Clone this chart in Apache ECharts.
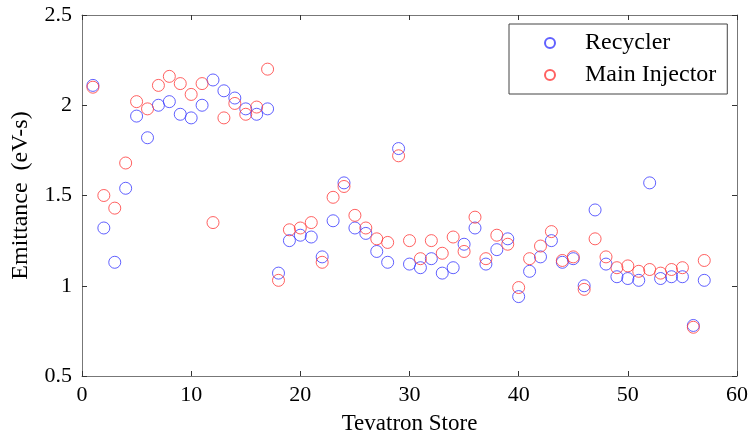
<!DOCTYPE html>
<html>
<head>
<meta charset="utf-8">
<script src="https://cdn.jsdelivr.net/npm/echarts@6/dist/echarts.min.js"></script>
<style>
html,body{margin:0;padding:0;background:#fff;}
#chart{width:750px;height:437px;}
</style>
</head>
<body>
<div id="chart"></div>
<script>
var stores = [1,2,3,4,5,6,7,8,9,10,11,12,13,14,15,16,17,18,19,20,21,22,23,24,25,26,27,28,29,30,31,32,33,34,35,36,37,38,39,40,41,42,43,44,45,46,47,48,49,50,51,52,53,54,55,56,57];
var recycler = [2.11,1.32,1.13,1.54,1.94,1.82,2.00,2.02,1.95,1.93,
                2.00,2.14,2.08,2.04,1.98,1.95,1.98,1.07,1.25,1.28,
                1.27,1.16,1.36,1.57,1.32,1.29,1.19,1.13,1.76,1.12,
                1.10,1.15,1.07,1.10,1.23,1.32,1.12,1.20,1.26,0.94,
                1.08,1.16,1.25,1.13,1.15,1.00,1.42,1.12,1.05,1.04,
                1.03,1.57,1.04,1.05,1.05,0.78,1.03];
var mainInjector = [2.10,1.50,1.43,1.68,2.02,1.98,2.11,2.16,2.12,2.06,
                    2.12,1.35,1.93,2.01,1.95,1.99,2.20,1.03,1.31,1.32,
                    1.35,1.13,1.49,1.55,1.39,1.32,1.26,1.24,1.72,1.25,
                    1.15,1.25,1.18,1.27,1.19,1.38,1.15,1.28,1.23,0.99,
                    1.15,1.22,1.30,1.14,1.16,0.98,1.26,1.16,1.10,1.11,
                    1.08,1.09,1.07,1.09,1.10,0.77,1.14];
var seriesNames = ['Recycler', 'Main Injector'];
var xTitle = 'Tevatron Store';
var yTitle = 'Emittance  (eV-s)';

function pairs(xs, ys) { return xs.map(function (x, i) { return [x, ys[i]]; }); }

var FONT = "'Liberation Serif', 'DejaVu Serif', serif";
var chart = echarts.init(document.getElementById('chart'), null, {renderer: 'canvas'});
var axisLineStyle = {color: '#777', width: 1};
var tickStyle = {color: '#333', width: 1};

chart.setOption({
  animation: false,
  backgroundColor: '#fff',
  textStyle: {fontFamily: FONT},
  grid: {left: 82, right: 13, top: 15, bottom: 61, containLabel: false, outerBoundsMode: 'none'},
  legend: {
    data: seriesNames,
    orient: 'vertical',
    left: 509, top: 24,
    padding: [4, 11, 4, 35],
    itemWidth: 10, itemHeight: 10, itemGap: 2,
    backgroundColor: '#fff',
    borderColor: '#444', borderWidth: 1, borderRadius: 0,
    textStyle: {fontFamily: FONT, fontSize: 24, color: '#000', lineHeight: 30, padding: [0, 0, 0, 25]}
  },
  xAxis: [{
    type: 'value', position: 'bottom', min: 0, max: 60, interval: 10,
    name: xTitle, nameLocation: 'middle', nameGap: 36,
    nameTextStyle: {fontFamily: FONT, fontSize: 23, color: '#000'},
    axisLine: {show: true, onZero: false, lineStyle: axisLineStyle},
    axisTick: {show: true, inside: true, length: 5, lineStyle: tickStyle},
    axisLabel: {fontFamily: FONT, fontSize: 22, color: '#000', margin: 8},
    splitLine: {show: false}
  }, {
    type: 'value', position: 'top', min: 0, max: 60, interval: 10,
    axisLine: {show: true, onZero: false, lineStyle: axisLineStyle},
    axisTick: {show: true, inside: true, length: 5, lineStyle: tickStyle},
    axisLabel: {show: false}, splitLine: {show: false}
  }],
  yAxis: [{
    type: 'value', position: 'left', min: 0.5, max: 2.5, interval: 0.5,
    name: yTitle, nameLocation: 'middle', nameGap: 49,
    nameTextStyle: {fontFamily: FONT, fontSize: 24, color: '#000'},
    axisLine: {show: true, onZero: false, lineStyle: axisLineStyle},
    axisTick: {show: true, inside: true, length: 5, lineStyle: tickStyle},
    axisLabel: {fontFamily: FONT, fontSize: 22, color: '#000', margin: 10},
    splitLine: {show: false}
  }, {
    type: 'value', position: 'right', min: 0.5, max: 2.5, interval: 0.5,
    axisLine: {show: true, onZero: false, lineStyle: axisLineStyle},
    axisTick: {show: true, inside: true, length: 5, lineStyle: tickStyle},
    axisLabel: {show: false}, splitLine: {show: false}
  }],
  series: [{
    name: seriesNames[0], type: 'scatter', xAxisIndex: 0, yAxisIndex: 0,
    symbol: 'circle', symbolSize: 12,
    itemStyle: {color: 'rgba(0,0,0,0)', borderColor: '#3a3aff', borderWidth: 1},
    data: pairs(stores, recycler)
  }, {
    name: seriesNames[1], type: 'scatter', xAxisIndex: 0, yAxisIndex: 0,
    symbol: 'circle', symbolSize: 12,
    itemStyle: {color: 'rgba(0,0,0,0)', borderColor: '#ff3a3a', borderWidth: 1},
    data: pairs(stores, mainInjector)
  }]
});
</script>
</body>
</html>
